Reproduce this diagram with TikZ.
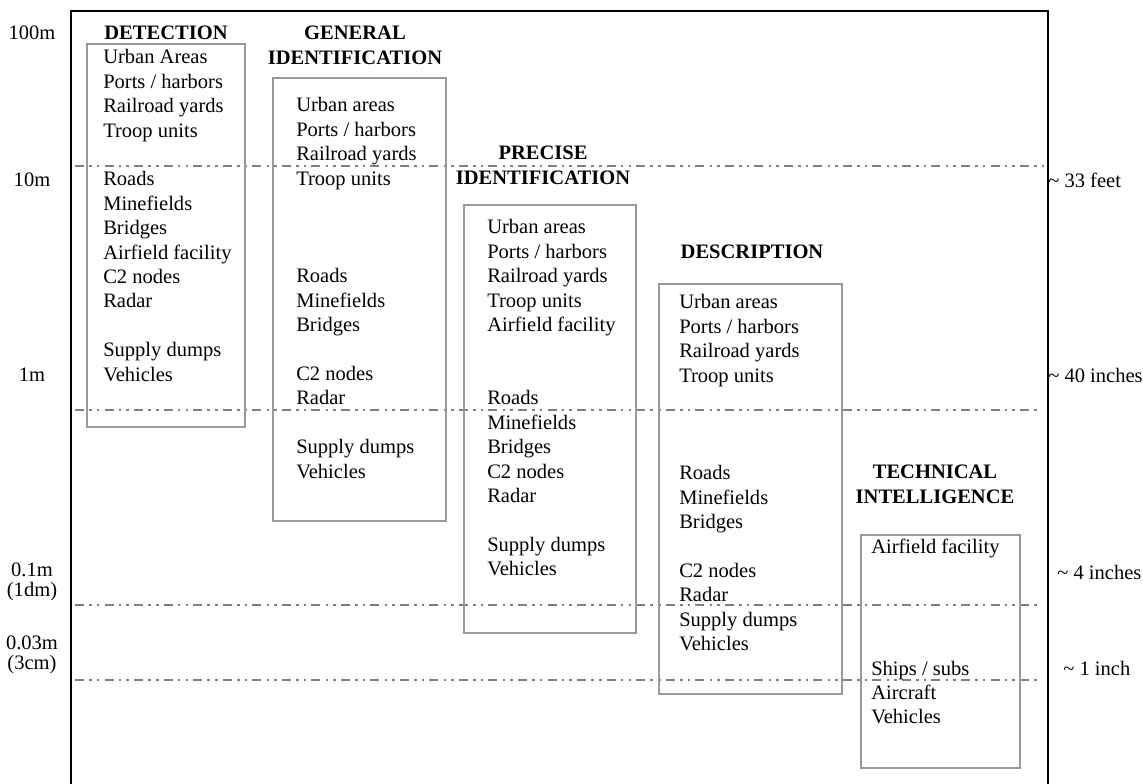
\documentclass[tikz,border=0pt]{standalone}
\usepackage{fontspec}
\setmainfont{Liberation Serif}
\definecolor{boxgray}{gray}{0.6}
\definecolor{linegray}{gray}{0.5}
\newcommand{\txt}{\fontsize{15.4pt}{18pt}\selectfont}
\newcommand{\ttl}{\fontsize{15.4pt}{18.5pt}\selectfont\bfseries}

\begin{document}
\begin{tikzpicture}[x=0.75pt, y=-0.75pt,
  frame/.style={line width=1pt},
  cat/.style={draw=boxgray, line width=1pt},
  level/.style={draw=linegray, line width=1.4pt,
    dash pattern=on 6.75pt off 4pt on 1.9pt off 3.8pt on 1.9pt off 3.8pt},
  item/.style={anchor=base west, inner sep=0pt, font=\txt},
  title/.style={align=center, inner sep=0pt, font=\ttl},
  sizelbl/.style={align=center, inner sep=0pt, font=\fontsize{15.4pt}{14.6pt}\selectfont}]
\useasboundingbox (0,0) rectangle (1143,784);

% frame and scale lines
\draw [frame] (71,784)--(71,11)--(1048,11)--(1048,784);
\draw [level] (75,166)--(1044,166);
\draw [level] (75,410)--(1042,410);
\draw [level] (75,605)--(1042,605);
\draw [level] (75,680)--(1042,680);

% left scale
\node [sizelbl] (l100) at (32,33) {100m};
\node [sizelbl] (l10) at (32,180) {10m};
\node [sizelbl] (l1) at (32,375) {1m};
\node [sizelbl] (l01) at (32,582) {0.1m\\(1dm)};
\node [sizelbl] (l003) at (32,655) {0.03m\\(3cm)};

% right scale
\node [sizelbl, anchor=west] (r33) at (1048,180) {\textasciitilde{} 33 feet};
\node [sizelbl, anchor=west] (r40) at (1048,375) {\textasciitilde{} 40 inches};
\node [sizelbl, anchor=west] (r4) at (1057,572) {\textasciitilde{} 4 inches};
\node [sizelbl, anchor=west] (r1) at (1063,668) {\textasciitilde{} 1 inch};

% detection
\node [title] (det) at (166,33) {DETECTION};
\draw [cat] (87,44) rectangle (245,427);
\foreach \r/\t in {0/Urban Areas, 1/{Ports / harbors}, 2/Railroad yards, 3/Troop units,
  5/Roads, 6/Minefields, 7/Bridges, 8/Airfield facility, 9/C2 nodes, 10/Radar,
  12/Supply dumps, 13/Vehicles}
  \node [item] (det\r) at (103,{64+24.4*\r}) {\t};

% general identification
\node [title] (gen) at (355,45) {GENERAL\\IDENTIFICATION};
\draw [cat] (273,78) rectangle (446,521);
\foreach \r/\t in {0/Urban areas, 1/{Ports / harbors}, 2/Railroad yards, 3/Troop units,
  7/Roads, 8/Minefields, 9/Bridges, 11/C2 nodes, 12/Radar,
  14/Supply dumps, 15/Vehicles}
  \node [item] (gen\r) at (296,{112+24.4*\r}) {\t};

% precise identification
\node [title] (pre) at (543,165.5) {PRECISE\\IDENTIFICATION};
\draw [cat] (464,205) rectangle (636,633);
\foreach \r/\t in {0/Urban areas, 1/{Ports / harbors}, 2/Railroad yards, 3/Troop units,
  4/Airfield facility, 7/Roads, 8/Minefields, 9/Bridges, 10/C2 nodes, 11/Radar,
  13/Supply dumps, 14/Vehicles}
  \node [item] (pre\r) at (487,{234+24.4*\r}) {\t};

% description
\node [title] (des) at (752,252) {DESCRIPTION};
\draw [cat] (659,284) rectangle (842,694);
\foreach \r/\t in {0/Urban areas, 1/{Ports / harbors}, 2/Railroad yards, 3/Troop units,
  7/Roads, 8/Minefields, 9/Bridges, 11/C2 nodes, 12/Radar,
  13/Supply dumps, 14/Vehicles}
  \node [item] (des\r) at (679,{309+24.4*\r}) {\t};

% technical intelligence
\node [title] (tec) at (935,484) {TECHNICAL\\INTELLIGENCE};
\draw [cat] (861,535) rectangle (1020,768);
\foreach \r/\t in {0/Airfield facility, 5/{Ships / subs}, 6/Aircraft, 7/Vehicles}
  \node [item] (tec\r) at (871,{553+24.4*\r}) {\t};
\end{tikzpicture}
\end{document}
